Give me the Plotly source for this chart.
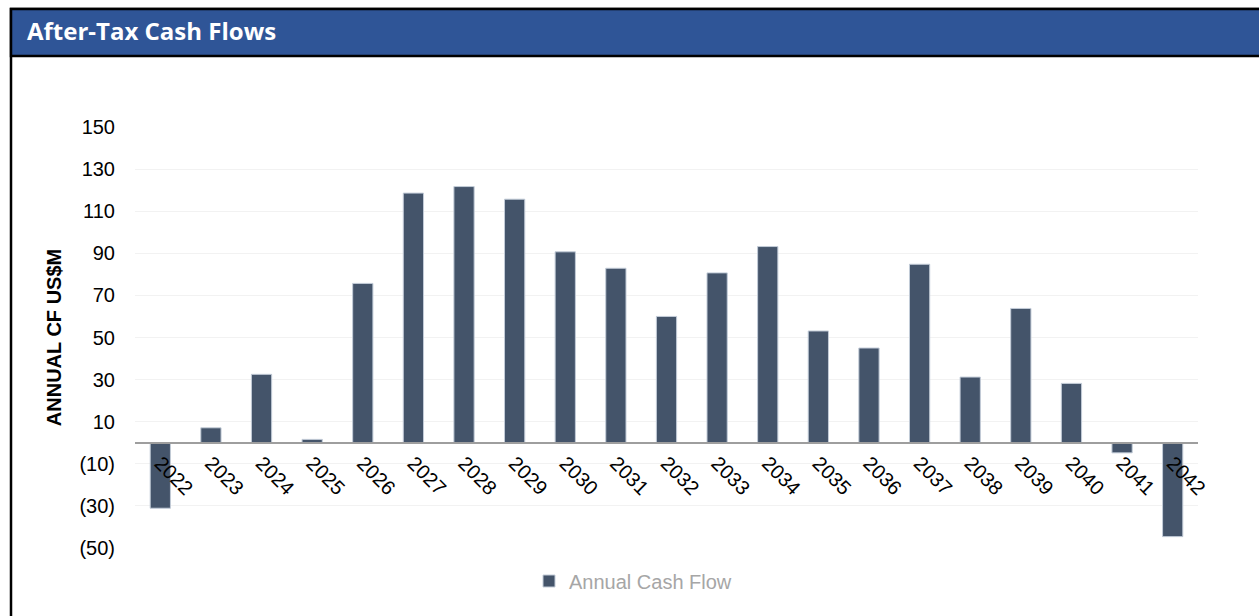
import plotly.graph_objects as go

years = [str(y) for y in range(2022, 2043)]
cash_flow = [-31.1, 7.1, 32.5, 1.6, 75.7, 118.6, 121.7, 115.7, 90.7, 82.9, 60.0,
             80.7, 93.2, 53.1, 45.0, 84.8, 31.2, 63.8, 28.2, -4.8, -44.6]
y_tickvals = [-50, -30, -10, 10, 30, 50, 70, 90, 110, 130, 150]
y_ticktext = ["(50)", "(30)", "(10)", "10", "30", "50", "70", "90", "110", "130", "150"]

W, H = 1259, 616
ML, MR, MT, MB = 135, 61, 127, 68
PW, PH = W - ML - MR, H - MT - MB


def px2x(px):
    return (px - ML) / PW


def px2y(py):
    return (H - MB - py) / PH


fig = go.Figure()
fig.add_trace(go.Bar(
    x=years, y=cash_flow, name="Annual Cash Flow", width=0.4,
    marker=dict(color="#44546A", line=dict(color="#C3CCD8", width=1)),
    showlegend=True,
))

fig.update_layout(
    width=W, height=H,
    margin=dict(l=ML, r=MR, t=MT, b=MB),
    paper_bgcolor="white", plot_bgcolor="white",
    font=dict(family="Liberation Sans, Arial", color="#000000", size=20),
    showlegend=True,
    legend=dict(orientation="h", x=px2x(633), xanchor="center", y=px2y(581), yanchor="middle",
                font=dict(color="#A6A6A6", size=20), itemwidth=30),
    xaxis=dict(type="category", range=[-0.5, 20.5], anchor="free", position=0.25,
               showline=True, linecolor="#9E9E9E", linewidth=2, showgrid=False,
               ticks="", tickangle=45, tickfont=dict(size=20, color="#000000"), zeroline=False),
    yaxis=dict(range=[-50, 150], tickvals=y_tickvals, ticktext=y_ticktext,
               showgrid=True, gridcolor="#F2F2F2", gridwidth=1, zeroline=False,
               showline=False, ticks="", ticklabelstandoff=19,
               tickfont=dict(size=20, color="#000000"),
               title=dict(text="ANNUAL CF US$M", standoff=12,
                          font=dict(size=20, weight="bold", color="#000000"))),
    shapes=[
        dict(type="rect", xref="paper", yref="paper",
             x0=px2x(11), x1=px2x(1264), y0=px2y(640), y1=px2y(9),
             line=dict(color="black", width=2.5), fillcolor="rgba(0,0,0,0)", layer="above"),
        dict(type="rect", xref="paper", yref="paper",
             x0=px2x(11), x1=px2x(1264), y0=px2y(56), y1=px2y(9),
             line=dict(color="black", width=2.5), fillcolor="#2F5597", layer="above"),
    ],
    annotations=[
        dict(text="After-Tax Cash Flows", xref="paper", yref="paper",
             x=px2x(25), xanchor="left", y=px2y(31), yanchor="middle", showarrow=False,
             font=dict(family="Open Sans", size=24, weight="bold", color="white")),
    ],
)

fig.write_html("out.html")
